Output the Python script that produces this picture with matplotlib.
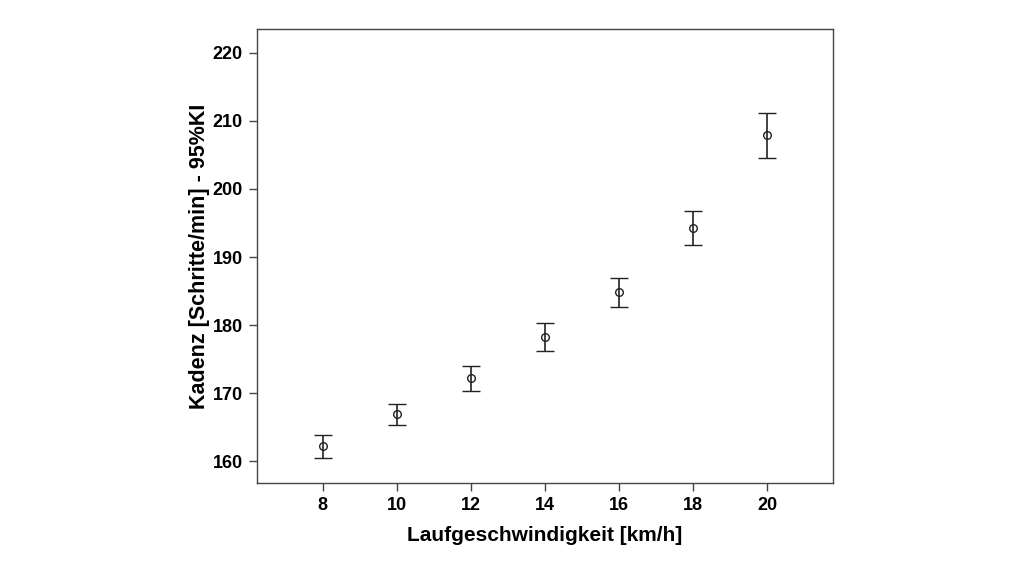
import matplotlib
matplotlib.use("Agg")
import matplotlib.pyplot as plt
import numpy as np

plt.rcParams['font.family'] = ['Liberation Sans', 'DejaVu Sans']

speed = [8, 10, 12, 14, 16, 18, 20]
cadence_mean = [162.3, 166.9, 172.2, 178.3, 184.9, 194.2, 207.9]
ci_lower = [160.5, 165.3, 170.4, 176.2, 182.7, 191.7, 204.5]
ci_upper = [163.9, 168.5, 174.0, 180.3, 186.9, 196.8, 211.2]

mean = np.array(cadence_mean)
err = [mean - np.array(ci_lower), np.array(ci_upper) - mean]

fig = plt.figure(figsize=(10.24, 5.76), dpi=100)
ax = fig.add_axes([0.2507, 0.161, 0.5628, 0.788])

ax.errorbar(speed, mean, yerr=err, fmt='o', color='#222222', mfc='none',
            mec='#222222', ms=5.5, mew=1.0, capsize=6.5, elinewidth=1.2,
            capthick=1.2)

ax.set_xlim(6.22, 21.78)
ax.set_ylim(156.8, 223.4)
ax.set_xticks(speed)
ax.set_yticks(np.arange(160, 221, 10))

for s in ax.spines.values():
    s.set_color('#444444')
    s.set_linewidth(1.0)
ax.tick_params(axis='both', length=6, width=1.0, color='#444444',
               labelsize=13, pad=4)
for lab in ax.get_xticklabels() + ax.get_yticklabels():
    lab.set_fontweight('bold')

ax.set_xlabel('Laufgeschwindigkeit [km/h]', fontsize=15, fontweight='bold', labelpad=8.5)
ax.set_ylabel('Kadenz [Schritte/min] - 95%KI', fontsize=15.5, fontweight='bold', labelpad=2)

fig.savefig('out.png', dpi=100)
